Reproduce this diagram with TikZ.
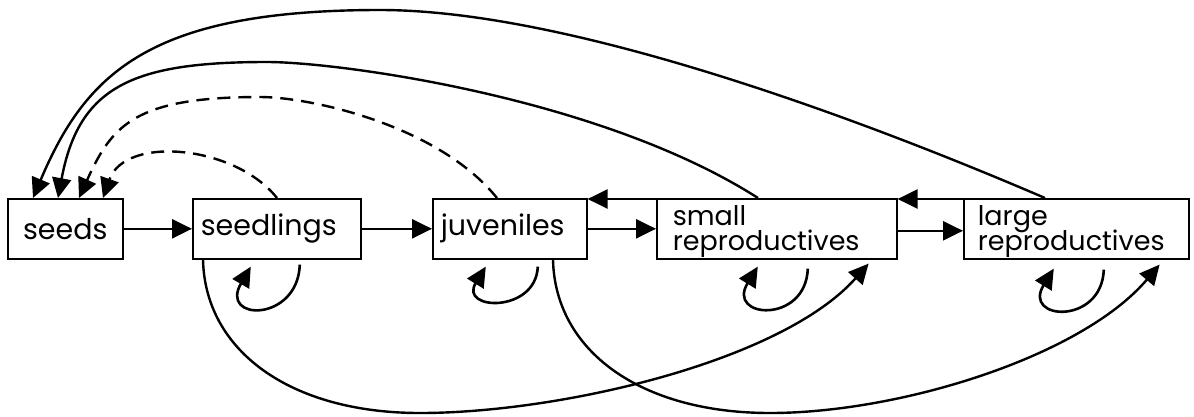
\documentclass[tikz,border=0pt]{standalone}
\usepackage{fontspec}
\setmainfont{Poppins}
\usetikzlibrary{arrows.meta}
\newcommand{\toplinestrut}{\rule{0pt}{26pt}}
\begin{document}
\begin{tikzpicture}[x=1pt,y=-1pt,
  stage/.style={draw, line width=1.6pt, anchor=north west, minimum height=60pt,
    inner ysep=0pt, align=left, font=\fontsize{28.5}{24.5}\selectfont},
  twoline/.style={stage, font={\fontsize{27}{25}\selectfont\lineskiplimit=-20pt\lineskip=0pt}},
  flow/.style={line width=2.4pt, -{Triangle[length=20pt,width=19pt]}},
  fecund/.style={flow, dash pattern=on 13pt off 8pt},
  selfloop/.style={flow, line width=2.6pt}]
\useasboundingbox (0,0) rectangle (1194,416);

% life-cycle stages
\node[stage, align=center, text width=115pt, inner xsep=0pt] (seeds) at (7,198) {seeds};
\node[stage, text width=152pt, inner xsep=8pt] (seedlings) at (192,198) {seedlings};
\node[stage, text width=138pt, inner xsep=8pt] (juveniles) at (432,198) {juveniles};
\node[twoline, text width=208pt, inner xsep=16pt] (small) at (656,198) {\toplinestrut small\\reproductives};
\node[twoline, text width=197pt, inner xsep=14pt] (large) at (963,198) {\toplinestrut large\\reproductives};

% growth
\draw[flow] (seeds) -- (seedlings);
\draw[flow] (seedlings) -- (juveniles);
\draw[flow] (juveniles) -- (small);
\draw[flow] ([yshift=-2pt]small.east) -- ([yshift=-2pt]large.west);

% regression
\draw[flow] ([yshift=-1pt]small.north west) -- ([yshift=-1pt]juveniles.north east);
\draw[flow] ([yshift=-1pt]large.north west) -- ([yshift=-1pt]small.north east);

% stasis
\draw[selfloop] ([shift={(23,5)}]seedlings.south) .. controls +(-2,58) and +(-32,55) .. ([shift={(-26,7)}]seedlings.south);
\draw[selfloop] ([shift={(28,7)}]juveniles.south) .. controls +(-2,47) and +(-27,44) .. ([shift={(-24,7)}]juveniles.south);
\draw[selfloop] ([shift={(31,9)}]small.south) .. controls +(-2,56) and +(-32,52) .. ([shift={(-19,7)}]small.south);
\draw[selfloop] ([shift={(27.5,10)}]large.south) .. controls +(-2,56) and +(-32,52) .. ([shift={(-22.5,9)}]large.south);

% fast growth
\draw[flow] ([xshift=11pt]seedlings.south west) .. controls +(2,91) and +(-130,0) .. (420,413)
  .. controls +(140,0) and +(-87,98) .. ([shift={(-29,4)}]small.south east);
\draw[flow] ([xshift=121pt]juveniles.south west) .. controls +(2,91) and +(-130,0) .. (770,413)
  .. controls +(130,0) and +(-78,92) .. ([shift={(-30,5)}]large.south east);

% seed production
\draw[flow] ([xshift=82pt]large.north west) .. controls (833,107) and (559,10) .. (380,10)
  .. controls (150,10) and (86,73) .. ([xshift=26pt]seeds.north west);
\draw[flow] ([xshift=102pt]small.north west) .. controls (600,97) and (338,62) .. (267,62)
  .. controls (133,62) and (79,86) .. ([xshift=51pt]seeds.north west);
\draw[fecund] ([xshift=65pt]juveniles.north west) .. controls (438,125) and (310,97) .. (260,97)
  .. controls (135,97) and (112,125) .. ([xshift=72pt]seeds.north west);
\draw[fecund] ([xshift=85pt]seedlings.north west) .. controls (235,145) and (125,135) .. ([xshift=96pt]seeds.north west);
\end{tikzpicture}
\end{document}
